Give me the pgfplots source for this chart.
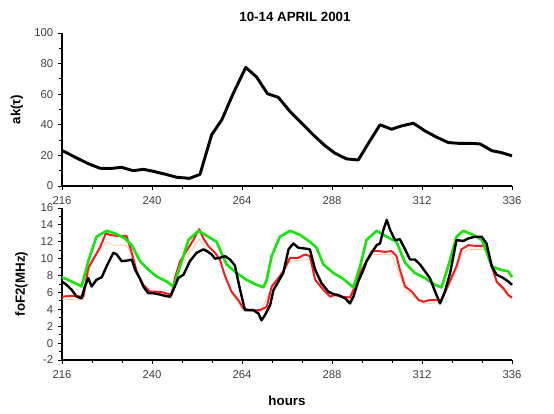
\documentclass[border=0pt]{standalone}
\usepackage{fontspec}
\setmainfont{Liberation Sans}
\usepackage{pgfplots}
\pgfplotsset{compat=1.18}

\definecolor{obsgreen}{RGB}{30,225,20}
\definecolor{modred}{RGB}{240,30,30}
\definecolor{modorange}{RGB}{255,200,150}

\pgfplotsset{
  panel/.style={
    scale only axis, width=337.5pt,
    xmin=216, xmax=336, xtick={216,240,...,336}, minor x tick num=2,
    axis lines*=left, tick align=outside,
    major tick length=3pt, minor tick length=2pt,
    tick style={black, line width=0.6pt},
    axis line style={black, line width=0.8pt},
    tick label style={font=\fontsize{8.5}{10}\selectfont, text=black!75},
    xticklabel style={yshift=-1.5pt},
    /pgf/number format/assume math mode=true,
    label style={font=\fontsize{10}{12}\selectfont\bfseries},
    clip=false,
  }
}

\begin{document}
\begin{tikzpicture}
\path[use as bounding box] (0,0) rectangle (415.5pt,310.5pt);

\node[font=\fontsize{10}{12}\selectfont\bfseries] at (221.25pt,297.75pt) {10-14 APRIL 2001};

% upper panel: ak(tau)
\begin{axis}[panel, at={(46.5pt,171pt)}, anchor=south west, height=114.75pt,
  ymin=0, ymax=100, ytick={0,20,...,100}, minor y tick num=1,
  ylabel={ak(τ)},
  ylabel style={at={(axis description cs:-0.1,0.5)}, anchor=center}]
\addplot[black, line width=2.2pt, line join=round] coordinates {
(216,23.1) (217.2,21.8) (219.2,19.2) (222.8,14.8) (226.1,11.6) (228.8,11.4)
(231.9,12.2) (235,10) (237.7,10.9) (240.4,9.6) (244,7.4) (246.6,5.7)
(250,5.0) (252.8,7.6) (255.9,33.4) (258.6,43.2) (261.7,60.7) (265,77.5)
(267.9,71.2) (270.8,60.3) (273.7,57.9) (276.8,48.7) (279.5,42.1) (283,33.4)
(286.1,26.4) (288.8,21.4) (291.9,17.7) (295,17) (297.7,27.9) (300.8,40)
(303.9,37.1) (306.6,39.3) (309.7,41) (312.8,36) (315.9,31.9) (319,28.4)
(321.7,27.9) (324.8,27.9) (327.5,27.5) (330.6,23.1) (333.2,21.8) (336,19.7)
};
\end{axis}

% lower panel: foF2
\begin{axis}[panel, at={(46.5pt,40.5pt)}, anchor=south west, height=114pt,
  ymin=-2, ymax=16, ytick={-2,0,...,16}, minor y tick num=1,
  ylabel={foF2(MHz)}, xlabel={hours},
  ylabel style={at={(axis description cs:-0.09,0.5)}, anchor=center},
  xlabel style={at={(axis description cs:0.5,-0.27)}, anchor=center}]
\addplot[modorange, line width=0.6pt] coordinates {
(216,5.2) (221.7,5.1) (223.5,9.1) (226.1,11.1) (227.9,12.0) (229.7,11.6)
(233.2,11.6) (235,9.9) (237.7,6.5) (241.2,5.7) (245.2,5.3) (247.5,9.3)
(251,11.3) (252.6,12.3) (254.6,11.1) (258.1,9.7) (261.2,5.9) (264.4,3.9)
(268.8,3.7) (271.9,6.5) (275,8.3) (276.8,9.7) (282.1,9.9) (285.7,6.1)
(292.8,5.1) (296.4,8.7) (298.6,10.5) (303.9,10.5) (307.5,6.3) (312.4,4.7)
(317.2,4.8) (321.2,8.7) (322.5,10.5) (324.4,11.1) (329.2,11.1) (331.9,7.1)
(336,5.1)
};
\addplot[modred, line width=1.5pt, line join=round] coordinates {
(216,5.5) (219,5.6) (221.7,5.5) (223,8.9) (224.8,10.3) (226.1,11.3)
(227.7,13.0) (228.8,12.8) (230.6,12.7) (233.2,12.7) (234.6,10.7) (235.9,8.5)
(237.7,6.9) (239.5,6.1) (241.2,6.1) (243,6.0) (245.2,5.7) (246.1,7.7)
(247.5,9.7) (249.2,10.9) (251,12.2) (252.6,13.5) (253.7,12.4) (255,11.5)
(256.8,10.7) (258.1,9.9) (259.5,7.9) (261.2,6.1) (263,5.1) (264.4,4.1)
(266.1,3.9) (268.8,3.9) (270.6,4.3) (271.9,6.7) (273.7,7.7) (275,8.5)
(276.8,10.1) (279,10.1) (280.8,10.5) (282.1,10.3) (283.5,7.5) (285.7,6.3)
(287.5,5.5) (288.8,5.7) (290.6,5.5) (292.8,5.4) (293.7,6.3) (295,7.9)
(296.4,9.1) (297.2,9.7) (298.6,10.9) (300.4,10.9) (302.1,10.8) (303.9,10.9)
(305.2,10.3) (306.1,8.7) (307.5,6.7) (309.3,6.1) (311.1,5.1) (312.4,4.9)
(314.1,5.1) (315.9,5.1) (317.2,5.1) (319,6.9) (321.2,9.1) (322.5,11.1)
(324.4,11.6) (326.6,11.5) (329.2,11.5) (330.6,9.1) (331.9,7.3) (333.7,6.5)
(335,5.7) (336,5.4)
};
\addplot[obsgreen, line width=2pt, line join=round] coordinates {
(216,7.8) (218.1,7.4) (220.4,6.9) (221.2,6.7) (223,9.7) (225.2,12.6)
(227.9,13.3) (230.1,13.0) (232.8,12.4) (234.6,11.6) (236.8,9.7) (239,8.7)
(241.2,7.9) (243.9,7.3) (245.7,6.7) (247.5,9.1) (249.7,12.2) (252.4,13.3)
(255,12.6) (257.2,12.0) (259.9,9.3) (262.6,8.3) (265.2,7.5) (267.9,6.9)
(269.7,6.6) (270.6,7.5) (271.9,10.3) (274.1,12.6) (276.8,13.3) (279.5,12.8)
(282.1,12.0) (283.9,11.3) (285.7,9.3) (288.4,8.3) (291,7.6) (293.7,6.6)
(295.5,9.1) (297.2,12.2) (299.9,13.3) (302.6,12.6) (305.2,12.0) (307.5,9.5)
(310.1,8.3) (312.8,7.7) (315.5,6.9) (317.2,6.6) (319,9.1) (321.2,12.6)
(323,13.3) (325.7,12.8) (328,12.2) (330.6,9.1) (332.8,8.7) (335,8.5)
(336,7.8)
};
\addplot[black, line width=1.8pt, line join=round] coordinates {
(216,7.3) (217.2,6.9) (218.6,6.3) (219.9,5.5) (221.2,5.3) (222.1,6.7)
(223,7.7) (223.9,6.7) (225.2,7.5) (226.6,7.8) (227.9,9.1) (229.7,10.7)
(230.6,10.5) (231.9,9.7) (233.7,9.8) (234.6,9.9) (235.5,8.7) (236.8,7.6)
(237.7,6.7) (239,5.9) (240.4,5.9) (241.7,5.8) (243.5,5.6) (244.8,5.5)
(245.7,6.3) (247,7.7) (248.4,8.1) (250.1,9.7) (251.9,10.7) (253.7,11.1)
(254.6,10.9) (255.9,10.5) (256.8,10.0) (258.1,10.1) (259.5,10.3) (260.8,9.9)
(262.1,9.2) (263.5,6.3) (264.8,3.9) (267,3.9) (268.4,3.5) (269.2,2.7)
(270.1,3.3) (271.5,4.5) (272.4,6.3) (273.2,6.9) (275,8.3) (276.4,11.1)
(277.7,11.8) (279,11.3) (280.8,11.2) (282.1,11.1) (283.5,8.7) (285.2,7.1)
(287,6.1) (288.4,5.8) (289.7,5.7) (291.5,5.3) (292.8,4.7) (293.7,5.5)
(295,7.3) (296.4,8.7) (297.2,9.7) (298.6,10.7) (299.9,11.6) (300.8,11.8)
(301.7,13.4) (302.6,14.6) (303.5,13.4) (304.8,12.2) (306.1,12.3) (307.5,11.1)
(308.8,9.9) (310.1,9.9) (311.5,9.3) (312.8,8.5) (314.1,7.7) (315.5,6.1)
(316.8,4.7) (318.1,6.1) (319.5,8.3) (321.2,12.2) (323,12.1) (324.4,12.4)
(326.1,12.6) (327.9,12.6) (329.2,11.8) (330.6,9.1) (331.9,8.1) (333.7,7.7)
(335,7.3) (336,6.9)
};
\end{axis}
\end{tikzpicture}
\end{document}
